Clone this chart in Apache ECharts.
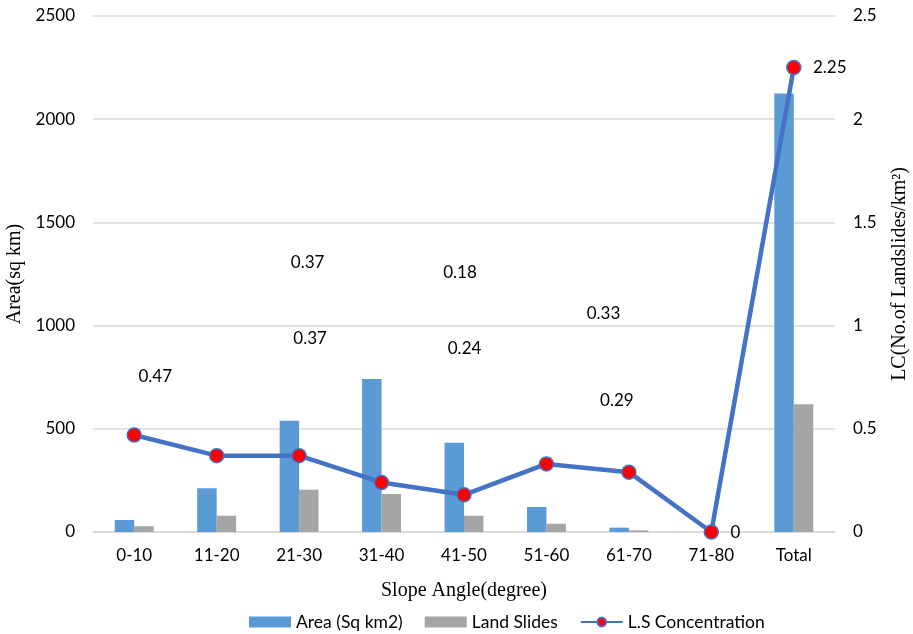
<!DOCTYPE html>
<html>
<head>
<meta charset="utf-8">
<script src="https://cdn.jsdelivr.net/npm/echarts@6/dist/echarts.min.js"></script>
<style>html,body{margin:0;padding:0;background:#fff}#c{width:913px;height:634px}</style>
</head>
<body>
<div id="c"></div>
<script>
const categories = ['0-10','11-20','21-30','31-40','41-50','51-60','61-70','71-80','Total'];
const areaValues = [58, 212, 539, 741, 433, 121, 21, 0, 2125];
const landslideValues = [28, 79, 205, 184, 79, 40, 8, 0, 619];
const concentrationValues = [0.47, 0.37, 0.37, 0.24, 0.18, 0.33, 0.29, 0, 2.25];
const leftTicks = { min: 0, max: 2500, interval: 500 };
const rightTicks = { min: 0, max: 2.5, interval: 0.5 };

// label placement (style), relative to each point
const labelOffsets = [[21,-58],[91,-193],[11,-117],[83,-134],[-4,-222],[57,-150],[-12,-72],[24,1],[36,0]];

const tickFont = { fontFamily: 'Lato', fontSize: 17, color: '#000' };
const titleFont = { fontFamily: 'Liberation Serif', fontSize: 20, color: '#000' };

const chart = echarts.init(document.getElementById('c'));
chart.setOption({
  animation: false,
  grid: { left: 93, right: 78, top: 16, bottom: 102, outerBoundsMode: 'none', containLabel: false },
  legend: {
    top: 608, left: 244, itemWidth: 42, itemHeight: 11, itemGap: 22,
    textStyle: { fontFamily: 'Lato', fontSize: 17.5, color: '#000' },
    data: [
      { name: 'Area (Sq km2)', icon: 'rect' },
      { name: 'Land Slides', icon: 'rect' },
      { name: 'L.S Concentration' }
    ]
  },
  xAxis: {
    type: 'category', data: categories,
    axisTick: { show: false },
    axisLine: { lineStyle: { color: '#d9d9d9', width: 1.5 } },
    axisLabel: Object.assign({ margin: 15 }, tickFont),
    name: 'Slope Angle(degree)', nameLocation: 'middle', nameGap: 49,
    nameTextStyle: titleFont
  },
  yAxis: [
    {
      type: 'value', min: leftTicks.min, max: leftTicks.max, interval: leftTicks.interval,
      axisLabel: Object.assign({ margin: 18, formatter: v => String(v) }, tickFont),
      splitLine: { lineStyle: { color: '#d9d9d9', width: 1.5 } },
      name: 'Area(sq km)', nameLocation: 'middle', nameGap: 65, nameTextStyle: titleFont
    },
    {
      type: 'value', min: rightTicks.min, max: rightTicks.max, interval: rightTicks.interval,
      axisLabel: Object.assign({ margin: 18, formatter: v => String(v) }, tickFont),
      splitLine: { show: false },
      name: 'LC(No.of Landslides/km²)', nameLocation: 'middle', nameGap: 55, nameRotate: 90,
      nameTextStyle: titleFont
    }
  ],
  series: [
    {
      name: 'Area (Sq km2)', type: 'bar', data: areaValues, yAxisIndex: 0,
      barWidth: '23.6%', barGap: '0%',
      itemStyle: { color: '#5B9BD5' }
    },
    {
      name: 'Land Slides', type: 'bar', data: landslideValues, yAxisIndex: 0,
      barWidth: '23.6%', barGap: '0%',
      itemStyle: { color: '#A5A5A5' }
    },
    {
      name: 'L.S Concentration', type: 'line', yAxisIndex: 1,
      data: concentrationValues.map((v, i) => ({
        value: v,
        label: { offset: labelOffsets[i] }
      })),
      symbol: 'circle', symbolSize: 14,
      lineStyle: { color: '#4472C4', width: 4.5 },
      itemStyle: { color: '#FF0000', borderColor: '#4472C4', borderWidth: 1.5 },
      label: { show: true, position: 'inside', fontFamily: 'Lato', fontSize: 17, color: '#000',
        formatter: p => String(p.value) },
      z: 5
    }
  ]
});
</script>
</body>
</html>
